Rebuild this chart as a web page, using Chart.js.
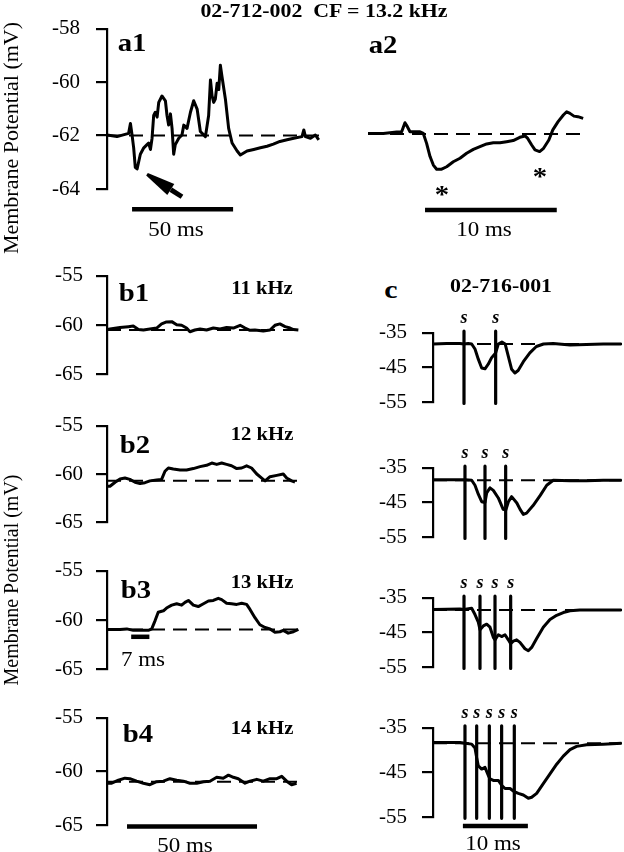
<!DOCTYPE html>
<html><head><meta charset="utf-8">
<script src="https://cdn.jsdelivr.net/npm/chart.js@4.4.0/dist/chart.umd.min.js"></script>
<style>
html,body{margin:0;padding:0;background:#fff;}
#fig{position:relative;width:624px;height:852px;overflow:hidden;background:#fff;font-family:"Liberation Serif","Times New Roman",serif;color:#000;}
#fig canvas{position:absolute;}
.t{position:absolute;white-space:pre;line-height:1;}
</style></head><body><div id="fig"></div>
<script>
// ---------- DATA ----------
// a1: membrane potential trace (ms, mV)
const a1Time = [0,4.95,10.7,11.6,12.4,13.2,14.0,14.9,16.5,18.2,19.8,20.6,21.5,22.3,23.1,23.9,24.8,25.6,27.2,28.9,29.7,30.5,31.4,32.2,33.0,33.8,35.5,37.1,38.0,39.6,41.3,42.9,44.6,46.2,48.7,50.3,51.2,52.0,52.8,53.6,54.5,55.3,56.1,56.9,58.6,60.2,61.9,64.4,66.0,69.3,72.6,75.9,79.2,82.3,85.6,89.1,92.4,96.5,97.4,98.2,100.7,103.1,104.8];
const a1Vm = [-61.98,-62.04,-61.92,-61.55,-61.98,-62.46,-63.19,-63.25,-62.70,-62.46,-62.34,-62.28,-62.52,-62.10,-61.25,-61.13,-61.31,-60.76,-60.52,-60.70,-61.25,-61.61,-61.19,-61.73,-62.70,-62.34,-62.10,-61.98,-61.61,-61.73,-61.13,-60.70,-61.01,-61.85,-62.04,-61.25,-59.92,-60.52,-60.76,-60.64,-60.04,-60.28,-59.37,-59.79,-60.64,-61.73,-62.28,-62.58,-62.73,-62.58,-62.52,-62.46,-62.40,-62.32,-62.22,-62.16,-62.10,-62.04,-61.79,-62.04,-62.10,-61.98,-62.16];
// a2
const a2Time = [0,1.16,2.17,2.55,2.80,2.98,3.18,3.94,4.19,4.44,4.70,4.95,5.20,5.58,5.96,6.46,6.97,7.47,7.98,8.48,8.99,9.49,10.0,10.5,11.0,11.5,11.9,12.1,12.4,12.65,13.0,13.3,13.7,14.0,14.4,14.8,15.05,15.3,15.6,15.9,16.3];
const a2Vm = [-61.98,-61.98,-61.93,-61.92,-61.59,-61.73,-61.92,-61.92,-61.98,-62.34,-62.82,-63.13,-63.28,-63.28,-63.19,-63.01,-62.88,-62.70,-62.56,-62.46,-62.36,-62.32,-62.32,-62.28,-62.24,-62.12,-62.07,-62.16,-62.40,-62.58,-62.64,-62.52,-62.22,-61.85,-61.55,-61.31,-61.19,-61.25,-61.35,-61.37,-61.43];
const aBaseline = -62;
const aTicks = [-64,-62,-60,-58];
// b1..b4
const b1Time = [0,1.15,5.0,8.2,10.1,12.1,14.0,16.5,19.1,21.0,22.9,24.9,26.8,28.7,30.6,31.9,33.8,35.8,38.3,40.9,43.5,46.0,48.6,51.2,53.1,55.0,56.9,60.1,62.7,64.6,66.5,68.5,70.4,71.7,73.6];
const b1Vm = [-60.46,-60.40,-60.26,-60.17,-60.11,-60.46,-60.51,-60.40,-60.31,-59.89,-59.69,-59.66,-59.97,-60.03,-60.31,-60.68,-60.51,-60.40,-60.51,-60.31,-60.40,-60.26,-60.31,-60.03,-60.31,-60.54,-60.51,-60.60,-60.51,-60.03,-59.89,-60.17,-60.31,-60.46,-60.51];
const b2Time = [0,1.15,3.1,5.0,6.9,8.8,10.8,12.7,14.6,16.5,19.1,21.0,22.3,23.6,25.5,28.1,30.6,33.2,35.8,38.3,40.3,42.2,44.1,46.0,47.9,49.9,51.8,53.7,55.6,57.6,59.5,60.8,62.7,65.3,67.8,69.1,71.0,72.3];
const b2Vm = [-61.27,-61.27,-60.85,-60.51,-60.42,-60.56,-60.85,-60.99,-60.90,-60.71,-60.62,-60.56,-59.72,-59.38,-59.49,-59.58,-59.58,-59.44,-59.24,-59.10,-58.87,-59.01,-58.87,-59.01,-59.15,-59.44,-59.38,-59.15,-59.38,-60.00,-60.42,-60.71,-60.28,-60.14,-60.00,-60.42,-60.71,-60.85];
const b3Time = [0,1.8,5.0,7.6,10.1,12.7,15.9,17.2,18.5,19.7,21.7,22.9,24.9,26.8,28.7,30.0,31.3,33.2,35.1,37.1,39.0,40.9,42.8,44.1,46.0,47.9,49.9,51.8,53.7,55.0,56.9,58.8,60.8,62.7,64.6,66.5,67.8,69.7,71.7,73.6];
const b3Vm = [-60.96,-60.96,-60.96,-60.90,-61.05,-61.05,-61.05,-60.90,-60.06,-59.21,-59.07,-58.79,-58.50,-58.36,-58.50,-58.22,-58.02,-58.50,-58.64,-58.36,-58.08,-58.02,-57.80,-57.94,-58.31,-58.36,-58.42,-58.31,-58.42,-58.93,-59.77,-60.48,-60.76,-60.90,-61.24,-61.19,-61.05,-61.33,-61.19,-60.96];
const b4Time = [0,1.8,4.4,6.9,8.8,11.4,14.0,16.5,19.1,21.7,24.2,26.8,29.4,31.9,34.5,37.1,39.6,42.2,44.7,46.7,48.6,50.5,53.1,55.0,57.6,60.1,62.7,65.3,67.2,69.1,71.0,72.9];
const b4Vm = [-61.11,-61.11,-60.83,-60.64,-60.69,-60.92,-61.11,-61.25,-60.97,-60.92,-60.69,-60.83,-60.92,-61.11,-61.11,-60.97,-60.92,-60.56,-60.64,-60.36,-60.56,-60.69,-61.11,-60.92,-60.75,-60.92,-60.69,-60.69,-60.47,-60.92,-61.25,-61.11];
const bBaselines = [-60.5,-60.71,-60.96,-60.97];
const bTicks = [-65,-60,-55];
// c1..c4
const c1Time = [0.05,2.1,4.15,4.77,5.4,5.95,6.46,6.97,7.49,8.0,8.5,9.0,9.64,10.05,10.6,11.1,11.6,12.1,12.6,13.1,13.9,14.9,15.9,17.0,18.5,21.1,23.6,26.2,29.0];
const c1Vm = [-38.26,-38.12,-38.12,-38.26,-38.12,-38.26,-39.71,-42.61,-45.14,-45.36,-44.06,-42.25,-40.80,-38.26,-37.68,-38.26,-41.88,-45.51,-46.59,-45.87,-43.33,-40.80,-38.99,-38.26,-38.12,-38.55,-38.41,-38.26,-38.26];
const c2Time = [0.05,4.15,4.92,5.95,6.46,6.97,7.49,8.0,8.26,8.77,9.28,10.05,10.8,11.2,11.6,12.1,12.9,13.4,13.9,14.4,15.4,16.5,17.5,18.5,21.1,23.6,26.2,29.0];
const c2Vm = [-38.48,-38.48,-38.48,-38.62,-40.07,-42.61,-44.78,-45.00,-42.25,-40.80,-41.52,-43.70,-46.96,-47.17,-44.78,-43.33,-45.14,-46.96,-48.41,-48.04,-45.87,-42.97,-40.07,-38.62,-38.77,-38.77,-38.62,-38.62];
const c3Time = [0.05,4.15,4.77,5.95,6.46,6.97,7.23,7.74,8.26,8.77,9.28,9.54,10.05,10.56,11.08,11.59,11.95,12.36,12.87,13.38,14.15,14.67,15.18,15.95,16.97,18.0,19.03,20.05,21.08,22.6,25.2,29.0];
const c3Vm = [-38.41,-38.26,-38.41,-38.04,-39.86,-42.03,-44.20,-43.12,-42.61,-43.48,-46.38,-47.10,-45.65,-46.16,-45.65,-47.10,-48.19,-47.46,-47.10,-47.83,-49.64,-50.22,-49.28,-46.74,-43.48,-41.30,-40.07,-39.28,-38.77,-38.55,-38.55,-38.55];
const c4Time = [0.05,4.15,4.92,5.95,6.46,6.72,6.97,7.49,8.0,8.51,8.77,9.28,10.05,10.56,11.08,11.85,12.51,13.13,13.9,14.67,15.18,15.95,16.97,18.0,19.03,20.05,21.08,22.1,23.64,26.2,29.0];
const c4Vm = [-38.33,-38.33,-38.48,-38.70,-39.57,-41.74,-43.55,-44.28,-43.91,-45.72,-46.45,-46.81,-46.81,-47.90,-48.62,-48.62,-49.35,-49.71,-50.07,-50.80,-50.58,-49.71,-47.54,-45.36,-43.19,-41.38,-39.93,-39.20,-38.84,-38.70,-38.48];
const c1Stim = [4.77,9.64];
const c2Stim = [4.92,8.0,11.18];
const c3Stim = [4.77,7.23,9.54,11.95];
const c4Stim = [4.92,6.72,8.67,10.56,12.51];
const cBaselines = [-38.26,-38.62,-38.55,-38.48];
const cTicks = [-55,-45,-35];

// ---------- DRAWING ----------
const SERIF = '"Liberation Serif","Times New Roman",serif';
const fig = document.getElementById('fig');

function lineDs(pts, extra) {
  return Object.assign({data: pts, borderColor: '#000', backgroundColor: '#000', borderWidth: 3,
    pointRadius: 0, tension: 0, fill: false, borderJoinStyle: 'round', borderCapStyle: 'butt'}, extra || {});
}

const markPlugin = {
  id: 'marks',
  afterDatasetsDraw(chart, args, opts) {
    const ctx = chart.ctx, xs = chart.scales.x, ys = chart.scales.y;
    ctx.save();
    ctx.fillStyle = '#000'; ctx.strokeStyle = '#000';
    (opts.stim || []).forEach(t => {
      ctx.font = 'italic bold 18px ' + SERIF;
      ctx.textAlign = 'center'; ctx.textBaseline = 'middle';
      ctx.fillText('s', xs.getPixelForValue(t), chart.chartArea.top - 14);
    });
    if (opts.arrow) {
      const A = opts.arrow;
      const x1 = xs.getPixelForValue(A.tip[0]), y1 = ys.getPixelForValue(A.tip[1]);
      const x2 = xs.getPixelForValue(A.tail[0]), y2 = ys.getPixelForValue(A.tail[1]);
      const dx = x2 - x1, dy = y2 - y1, L = Math.hypot(dx, dy);
      const ux = dx / L, uy = dy / L, nx = -uy, ny = ux;
      const hl = L * 0.68, hw = 6.5;
      const bx = x1 + ux * hl, by = y1 + uy * hl;
      ctx.beginPath();
      ctx.moveTo(x1 + nx * 1.5, y1 + ny * 1.5);
      ctx.lineTo(bx + nx * hw, by + ny * hw);
      ctx.lineTo(bx - nx * hw, by - ny * hw);
      ctx.lineTo(x1 - nx * 1.5, y1 - ny * 1.5);
      ctx.closePath(); ctx.fill();
      ctx.lineWidth = 5; ctx.beginPath(); ctx.moveTo(bx, by); ctx.lineTo(x2, y2); ctx.stroke();
    }
    ctx.restore();
  }
};

function makePanel(p) {
  const cv = document.createElement('canvas');
  cv.width = p.box.w; cv.height = p.box.h;
  cv.style.left = p.box.x + 'px'; cv.style.top = p.box.y + 'px';
  cv.style.width = p.box.w + 'px'; cv.style.height = p.box.h + 'px';
  fig.appendChild(cv);
  const axisW = p.area.l - p.box.x;
  const ds = [];
  ds.push(lineDs([{x: p.xMin, y: p.base}, {x: p.xMax, y: p.base}], {borderDash: [14, 8], borderWidth: 2}));
  (p.stim || []).forEach(s => ds.push(lineDs([{x: s, y: p.yMax + 0.02 * (p.yMax - p.yMin)}, {x: s, y: p.yMin - 0.015 * (p.yMax - p.yMin)}], {borderWidth: 3.2, clip: false})));
  ds.push(lineDs(p.time.map((t, i) => ({x: t, y: p.vm[i]})), {borderWidth: 3}));
  (p.bars || []).forEach(b => ds.push(lineDs([{x: b.from, y: b.at}, {x: b.to, y: b.at}], {borderWidth: 4.5, clip: false})));
  const yScale = {
    type: 'linear', display: !!p.showY, min: p.yMin, max: p.yMax,
    afterBuildTicks: s => { s.ticks = p.ticks.map(v => ({value: v})); },
    border: {display: true, color: '#000', width: 2.2},
    grid: {display: true, drawOnChartArea: false, drawTicks: true, tickLength: 11, color: '#000', lineWidth: 2.2},
    ticks: {color: '#000', padding: p.tickPad || 15, font: {family: SERIF, size: 21}, callback: v => String(v)}
  };
  if (p.showY) yScale.afterFit = s => { s.width = axisW; };
  new Chart(cv, {
    type: 'line',
    data: {datasets: ds},
    options: {
      responsive: false, animation: false, events: [],
      layout: {padding: {left: p.showY ? 0 : axisW, top: p.area.t - p.box.y,
        right: p.box.x + p.box.w - p.area.r, bottom: p.box.y + p.box.h - p.area.b}},
      plugins: {legend: {display: false}, tooltip: {enabled: false}, title: {display: false},
        marks: {stim: p.stim, arrow: p.arrow}},
      scales: {x: {type: 'linear', display: false, min: p.xMin, max: p.xMax}, y: yScale}
    },
    plugins: [markPlugin]
  });
}

// a1
makePanel({box: {x: 0, y: 0, w: 330, h: 250}, area: {l: 107, t: 24, r: 322, b: 189}, showY: true, tickPad: 16,
  xMin: 0, xMax: 106.4, yMin: -64, yMax: -58, ticks: aTicks, base: aBaseline, time: a1Time, vm: a1Vm,
  bars: [{from: 12.4, to: 62.4, at: -64.76}], arrow: {tip: [19.8, -63.45], tail: [37.1, -64.29]}});
// a2
makePanel({box: {x: 340, y: 0, w: 284, h: 250}, area: {l: 368, t: 24, r: 587, b: 189}, showY: false,
  xMin: 0, xMax: 16.59, yMin: -64, yMax: -58, ticks: aTicks, base: aBaseline, time: a2Time, vm: a2Vm,
  bars: [{from: 4.32, to: 14.3, at: -64.76}]});
// b panels
const bBoxes = [[250, 150, 270, 387], [400, 148, 417, 535], [545, 150, 561, 678], [692, 160, 707, 825]];
const bTimes = [b1Time, b2Time, b3Time, b4Time], bVms = [b1Vm, b2Vm, b3Vm, b4Vm];
const bBars = [[], [], [{from: 9.3, to: 16.3, at: -61.7}], [{from: 7.7, to: 57.7, at: -65.15}]];
bBoxes.forEach((bb, i) => makePanel({box: {x: 0, y: bb[0], w: 320, h: bb[1]}, area: {l: 107, t: bb[2], r: 300, b: bb[3]},
  showY: true, tickPad: 13, xMin: 0, xMax: 74.23, yMin: -65, yMax: -55, ticks: bTicks, base: bBaselines[i],
  time: bTimes[i], vm: bVms[i], bars: bBars[i]}));
// c panels
const cBoxes = [[305, 125, 325, 417], [440, 125, 463, 555], [570, 125, 596, 688], [700, 152, 726, 817]];
const cTimes = [c1Time, c2Time, c3Time, c4Time], cVms = [c1Vm, c2Vm, c3Vm, c4Vm], cStims = [c1Stim, c2Stim, c3Stim, c4Stim];
const cBars = [[], [], [], [{from: 4.6, to: 14.6, at: -57.0}]];
cBoxes.forEach((bb, i) => makePanel({box: {x: 340, y: bb[0], w: 284, h: bb[1]}, area: {l: 433, t: bb[2], r: 622, b: bb[3]},
  showY: true, tickPad: 15, xMin: 0, xMax: 29.08, yMin: -55, yMax: -35, ticks: cTicks, base: cBaselines[i],
  time: cTimes[i], vm: cVms[i], stim: cStims[i], bars: cBars[i]}));

// ---------- TEXT ----------
function lab(text, cx, cy, size, bold, extra) {
  const d = document.createElement('div');
  d.className = 't';
  d.textContent = text;
  d.style.left = cx + 'px'; d.style.top = cy + 'px';
  d.style.fontSize = size + 'px';
  d.style.fontWeight = bold ? 'bold' : 'normal';
  d.style.transform = 'translate(-50%,-50%) ' + (extra || 'scaleX(1.15)');
  fig.appendChild(d);
}
lab('02-712-002  CF = 13.2 kHz', 324, 10, 19, true);
lab('a1', 132, 42, 25, true);
lab('a2', 383, 44, 25, true);
lab('50 ms', 176, 229, 20, false);
lab('10 ms', 484, 229, 20, false);
lab('*', 442, 194, 25, true);
lab('*', 540, 176, 25, true);
lab('b1', 134, 292, 25, true);
lab('b2', 135, 444, 25, true);
lab('b3', 136, 589, 25, true);
lab('b4', 138, 733, 25, true);
lab('11 kHz', 262, 288, 18, true);
lab('12 kHz', 262, 434, 18, true);
lab('13 kHz', 262, 582, 18, true);
lab('14 kHz', 262, 728, 18, true);
lab('7 ms', 143, 659, 20, false);
lab('50 ms', 185, 845, 20, false);
lab('c', 391, 290, 26, true);
lab('02-716-001', 501, 285, 19, true);
lab('10 ms', 493, 843, 20, false);
lab('Membrane Potential (mV)', 11, 138, 22, false, 'rotate(-90deg)');
lab('Membrane Potential (mV)', 11, 580, 20, false, 'rotate(-90deg)');
</script></body></html>
